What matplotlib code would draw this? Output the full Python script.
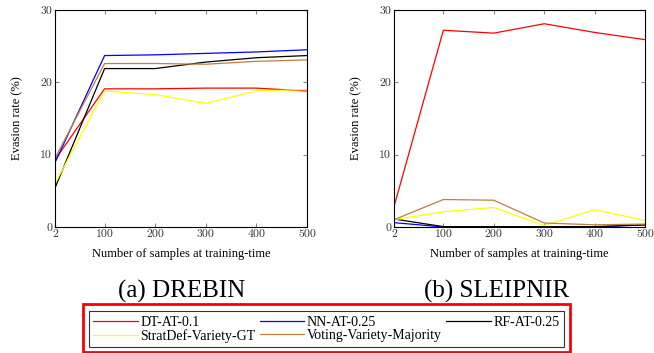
import matplotlib.pyplot as plt
from matplotlib.patches import Rectangle

x = [2, 100, 200, 300, 400, 500]
xticks = [2, 100, 200, 300, 400, 500]
yticks = [0, 10, 20, 30]

names = ['DT-AT-0.1', 'NN-AT-0.25', 'RF-AT-0.25',
         'StratDef-Variety-GT', 'Voting-Variety-Majority']
colors = ['#ff0000', '#0000ff', '#000000', '#ffff00', '#bf8040']

# DREBIN
drebin_dt = [9.3, 19.1, 19.1, 19.2, 19.2, 18.8]
drebin_nn = [8.9, 23.7, 23.8, 24.0, 24.2, 24.5]
drebin_rf = [5.4, 21.9, 21.9, 22.8, 23.4, 23.7]
drebin_strat = [6.0, 18.8, 18.3, 17.1, 18.8, 19.0]
drebin_vote = [9.5, 22.6, 22.6, 22.5, 22.9, 23.1]

# SLEIPNIR
sleip_dt = [2.8, 27.2, 26.8, 28.1, 26.9, 25.9]
sleip_nn = [0.6, 0.0, 0.0, 0.0, 0.0, 0.3]
sleip_rf = [1.1, 0.05, 0.05, 0.05, 0.05, 0.3]
sleip_strat = [1.0, 2.1, 2.7, 0.2, 2.4, 0.9]
sleip_vote = [1.0, 3.8, 3.7, 0.55, 0.3, 0.4]

drebin = [drebin_dt, drebin_nn, drebin_rf, drebin_strat, drebin_vote]
sleip = [sleip_dt, sleip_nn, sleip_rf, sleip_strat, sleip_vote]

plt.rcParams['font.family'] = 'Liberation Serif'

fig = plt.figure(figsize=(6.54, 3.53), dpi=100)
ax1 = fig.add_axes([0.0841, 0.357, 0.3853, 0.6147])
ax2 = fig.add_axes([0.6024, 0.357, 0.3838, 0.6147])

for ax, series in [(ax1, drebin), (ax2, sleip)]:
    lines = []
    for vals, c, n in zip(series, colors, names):
        ln, = ax.plot(x, vals, color=c, lw=0.9, label=n)
        lines.append(ln)
    ax.set_xlim(2, 500)
    ax.set_ylim(0, 30)
    ax.set_xticks(xticks)
    ax.set_yticks(yticks)
    ax.tick_params(direction='in', top=True, right=True, length=3,
                   color='#888888', labelsize=8.5, labelcolor='#333333', pad=2)
    for lab in ax.get_xticklabels() + ax.get_yticklabels():
        lab.set_fontfamily('cmr10')
    for s in ax.spines.values():
        s.set_linewidth(0.8)
    ax.set_xlabel('Number of samples at training-time', fontsize=9, labelpad=6)
    ax.set_ylabel('Evasion rate (%)', fontsize=9, labelpad=12)

fig.text(0.278, 0.175, '(a) DREBIN', ha='center', va='center', fontsize=18)
fig.text(0.760, 0.175, '(b) SLEIPNIR', ha='center', va='center', fontsize=18)

# row-major order like the original legend
order = [0, 3, 1, 4, 2]
leg = fig.legend(handles=[lines[i] for i in order], loc='center',
                 bbox_to_anchor=(0.499, 0.067), ncol=3, fontsize=10,
                 frameon=True, fancybox=False, handlelength=3.2,
                 columnspacing=0.3, handletextpad=0.2,
                 borderpad=0.3, labelspacing=0.05, borderaxespad=0)
leg.get_frame().set_edgecolor('black')
leg.get_frame().set_linewidth(0.8)

fig.patches.append(Rectangle((83 / 654, 0.003), 487 / 654, 48 / 353,
                             transform=fig.transFigure, fill=False,
                             edgecolor='#ff0000', lw=2.0))

fig.savefig('out.png', dpi=100)
